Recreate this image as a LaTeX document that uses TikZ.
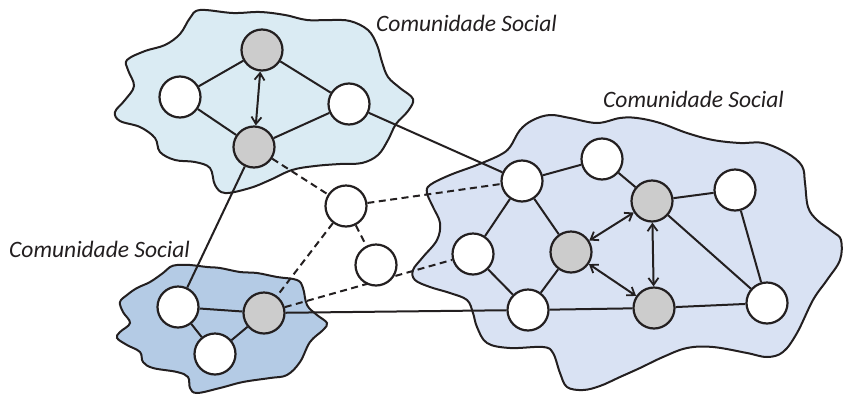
\documentclass[tikz,border=0pt]{standalone}
\usepackage{fontspec}
\newfontfamily\labelfont{Carlito}
\usetikzlibrary{arrows.meta}
\definecolor{ink}{HTML}{231F20}
\definecolor{cloudA}{HTML}{DAEBF3}
\definecolor{cloudB}{HTML}{D9E2F3}
\definecolor{cloudC}{HTML}{B4CBE5}
\definecolor{hub}{HTML}{CCCCCC}
\pgfdeclarelayer{clouds}
\pgfdeclarelayer{edges}
\pgfsetlayers{clouds,edges,main}
\tikzset{
  member/.style={circle, draw=ink, line width=2.2pt, fill=white, minimum size=41pt, inner sep=0pt},
  hubnode/.style={member, fill=hub},
  link/.style={draw=ink, line width=2pt},
  weak/.style={link, dash pattern=on 7pt off 4.5pt},
  mutual/.style={link, {Straight Barb[length=7pt,width=10pt,line width=1.8pt]}-{Straight Barb[length=7pt,width=10pt,line width=1.8pt]}},
  cloud/.style={draw=ink, line width=2pt},
  caption/.style={font=\labelfont\itshape\fontsize{23.5}{26}\selectfont, text=ink, anchor=west, inner sep=0pt}
}
\begin{document}
\begin{tikzpicture}[x=1pt, y=-1pt]
\useasboundingbox (0,0) rectangle (843,397);

% community outlines
\begin{pgfonlayer}{clouds}
\draw[cloud, fill=cloudA] plot[smooth cycle, tension=0.6] coordinates {
  (200,10) (233,13) (260,12) (285,15) (307,20) (330,20) (350,21) (368,30)
  (377,45) (382,62) (388,77) (400,88) (413,99) (408,111) (396,124) (388,140)
  (378,155) (362,163) (340,164) (315,166) (292,170) (270,180) (250,188)
  (225,193) (215,185) (210,168) (195,162) (175,160) (160,152) (155,138)
  (140,127) (120,121) (115,112) (125,100) (134,86) (128,70) (127,60)
  (145,51) (165,45) (180,34) (190,18)};
\draw[cloud, fill=cloudB] plot[smooth cycle, tension=0.6] coordinates {
  (533,120) (550,115) (570,118) (597,123) (620,118) (637,118) (660,123)
  (687,133) (713,140) (740,143) (763,143) (787,153) (802,166) (805,183)
  (808,207) (817,220) (833,232) (841,240) (840,260) (827,280) (813,300)
  (797,333) (783,352) (767,357) (747,353) (713,347) (687,348) (663,357)
  (640,368) (620,377) (600,386) (583,390) (567,387) (560,373) (553,353)
  (543,347) (510,348) (487,343) (477,327) (473,313) (467,300) (450,293)
  (430,287) (415,280) (413,270) (423,257) (437,240) (440,223) (433,207)
  (427,193) (430,185) (450,175) (477,165) (500,155) (510,147) (520,130)};
\draw[cloud, fill=cloudC] plot[smooth cycle, tension=0.6] coordinates {
  (177,265) (190,265) (207,267) (220,268) (240,272) (257,273) (277,277)
  (297,280) (303,288) (307,305) (317,315) (327,323) (323,330) (310,342)
  (300,362) (287,375) (270,378) (243,382) (220,388) (197,393) (190,388)
  (188,377) (177,372) (153,368) (143,362) (140,352) (127,345) (117,338)
  (120,332) (130,323) (123,312) (120,302) (127,295) (137,288) (150,282)
  (163,273) (170,267)};
\end{pgfonlayer}

% upper-left community
\node[hubnode] (a1) at (262,50) {};
\node[member]  (a2) at (180,97) {};
\node[member]  (a3) at (349,104) {};
\node[hubnode] (a4) at (254,147) {};

% nodes between communities
\node[member] (m1) at (346,206) {};
\node[member] (m2) at (376,265) {};

% right community
\node[member]  (b1) at (522,181) {};
\node[member]  (b2) at (602,159) {};
\node[hubnode] (b3) at (652,201) {};
\node[member]  (b4) at (735,190) {};
\node[member]  (b5) at (473,254) {};
\node[hubnode] (b6) at (571,252) {};
\node[member]  (b7) at (528,310) {};
\node[hubnode] (b8) at (654,308) {};
\node[member]  (b9) at (767,303) {};

% lower-left community
\node[member]  (c1) at (178,307) {};
\node[hubnode] (c2) at (264,313) {};
\node[member]  (c3) at (215,354) {};

\begin{pgfonlayer}{edges}
\draw[link] (a1) -- (a2);
\draw[link] (a1) -- (a3);
\draw[link] (a2) -- (a4);
\draw[link] (a3) -- (a4);
\draw[link] (a3) -- (b1);
\draw[link] (a4) -- (c1);
\draw[weak] (a4) -- (m1);
\draw[weak] (m1) -- (b1);
\draw[weak] (m1) -- (m2);
\draw[weak] (m1) -- (c2);
\draw[weak] (c2) -- (b5);
\draw[link] (c2) -- (b7);
\draw[link] (c1) -- (c2);
\draw[link] (c1) -- (c3);
\draw[link] (c3) -- (c2);
\draw[link] (b1) -- (b2);
\draw[link] (b1) -- (b5);
\draw[link] (b1) -- (b6);
\draw[link] (b5) -- (b7);
\draw[link] (b6) -- (b7);
\draw[link] (b7) -- (b8);
\draw[link] (b8) -- (b9);
\draw[link] (b2) -- (b3);
\draw[link] (b3) -- (b4);
\draw[link] (b4) -- (b9);
\draw[link] (b3) -- (b9);
\end{pgfonlayer}

% mutual ties between hubs
\draw[mutual] (a1) -- (a4);
\draw[mutual] (b3) -- (b6);
\draw[mutual] (b3) -- (b8);
\draw[mutual] (b6) -- (b8);

% captions
\node[caption] (capA) at (376,23) {Comunidade Social};
\node[caption] (capB) at (603,99) {Comunidade Social};
\node[caption] (capC) at (9,249) {Comunidade Social};
\end{tikzpicture}
\end{document}
